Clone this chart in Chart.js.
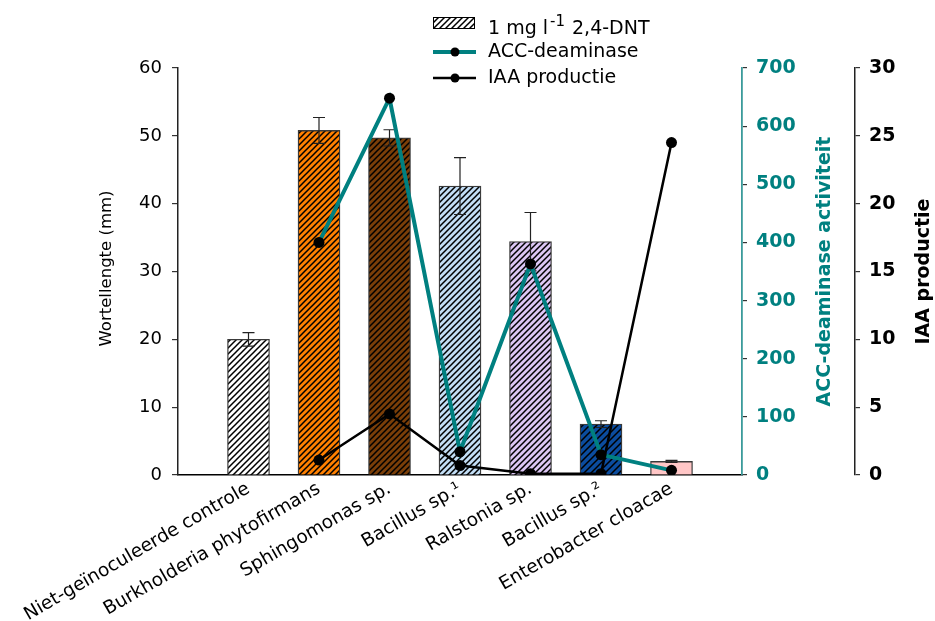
<!DOCTYPE html>
<html>
<head>
<meta charset="utf-8">
<script src="https://cdn.jsdelivr.net/npm/chart.js@4.4.1/dist/chart.umd.min.js"></script>
<style>
  html, body { margin: 0; padding: 0; background: #fff; }
  canvas { display: block; }
</style>
</head>
<body>
<canvas id="chart" width="935" height="621"></canvas>
<script>
// Strains tested (x axis)
const categories = [
  'Niet-geïnoculeerde controle',
  'Burkholderia phytofirmans',
  'Sphingomonas sp.',
  'Bacillus sp.¹',
  'Ralstonia sp.',
  'Bacillus sp.²',
  'Enterobacter cloacae'
];
// Root length (mm) at 1 mg/l 2,4-DNT, with standard error
const rootLength    = [20.0, 50.8, 49.7, 42.6, 34.4, 7.5, 2.0];
const rootLengthErr = [1.0, 1.9, 1.2, 4.2, 4.3, 0.5, 0.15];
// ACC-deaminase activity per strain
const accDeaminase  = [null, 400, 648, 40, 363, 35, 8];
// IAA production per strain
const iaaProduction = [null, 1.1, 4.5, 0.7, 0.1, 0.1, 24.5];

const FONT = 'DejaVu Sans';
const TEAL = '#008080';

const canvas = document.getElementById('chart');
const ctx = canvas.getContext('2d');

// Diagonal hatch fill on a coloured background
function hatch(bg, gap, lw) {
  const c = document.createElement('canvas');
  c.width = c.height = gap;
  const g = c.getContext('2d');
  g.fillStyle = bg;
  g.fillRect(0, 0, gap, gap);
  g.strokeStyle = '#000';
  g.lineWidth = lw;
  g.beginPath();
  g.moveTo(-1, gap + 1); g.lineTo(gap + 1, -1);
  g.moveTo(-gap / 2 - 1, gap / 2 + 1); g.lineTo(gap / 2 + 1, -gap / 2 - 1);
  g.moveTo(gap / 2 - 1, gap * 1.5 + 1); g.lineTo(gap * 1.5 + 1, gap / 2 - 1);
  g.stroke();
  return ctx.createPattern(c, 'repeat');
}

const barFills = [
  hatch('#ffffff', 6, 1.5),
  hatch('#ff8000', 6, 1.5),
  hatch('#7a3e08', 6, 1.5),
  hatch('#c2ddf5', 6, 1.5),
  hatch('#dcc6f4', 6, 1.5),
  hatch('#0b4c9e', 7, 1.5),
  '#ffc6c6'
];

// One empty slot on each side of the strains
const pad = arr => [null, ...arr, null];
const labels = ['', ...categories, ''];

const extras = {
  id: 'extras',
  afterDatasetDraw(chart, args) {
    if (args.index !== 0) return;
    const meta = chart.getDatasetMeta(0);
    const ys = chart.scales.y;
    const c = chart.ctx;
    c.save();
    c.strokeStyle = '#222';
    c.lineWidth = 1.2;
    meta.data.forEach((bar, i) => {
      const k = i - 1;
      if (k < 0 || k >= rootLength.length) return;
      const v = rootLength[k], e = rootLengthErr[k];
      const top = ys.getPixelForValue(v + e);
      const bot = ys.getPixelForValue(v - e);
      const x = bar.x;
      c.beginPath();
      c.moveTo(x, top); c.lineTo(x, bot);
      c.moveTo(x - 6, top); c.lineTo(x + 6, top);
      c.moveTo(x - 6, bot); c.lineTo(x + 6, bot);
      c.stroke();
    });
    c.restore();
  },
  afterDraw(chart) {
    const c = chart.ctx;
    const area = chart.chartArea;
    const midY = (area.top + area.bottom) / 2;
    c.save();

    // Axis titles, all reading bottom to top
    const vTitle = (text, x, y, font, color) => {
      c.save();
      c.translate(x, y);
      c.rotate(-Math.PI / 2);
      c.font = font;
      c.fillStyle = color;
      c.textAlign = 'center';
      c.textBaseline = 'middle';
      c.fillText(text, 0, 0);
      c.restore();
    };
    vTitle('Wortellengte (mm)', 107, midY - 3, `16.5px "${FONT}"`, '#000');
    vTitle('ACC-deaminase activiteit', 825, midY, `bold 19px "${FONT}"`, TEAL);
    vTitle('IAA productie', 924, midY, `bold 19px "${FONT}"`, '#000');

    // Legend
    const lx = 433, tx = 488;
    c.fillStyle = barFills[0];
    c.fillRect(lx, 17, 41, 11);
    c.strokeStyle = '#000';
    c.lineWidth = 1;
    c.strokeRect(lx + 0.5, 17.5, 41, 11);

    c.fillStyle = '#000';
    c.textBaseline = 'alphabetic';
    c.textAlign = 'left';
    c.font = `19px "${FONT}"`;
    let x = tx;
    c.fillText('1 mg l', x, 34);
    x += c.measureText('1 mg l').width + 2;
    c.font = `15px "${FONT}"`;
    c.fillText('-1', x, 26);
    x += c.measureText('-1').width + 1;
    c.font = `19px "${FONT}"`;
    c.fillText(' 2,4-DNT', x, 34);

    const legendLine = (y, color, w, text) => {
      c.strokeStyle = color;
      c.lineWidth = w;
      c.beginPath();
      c.moveTo(lx, y); c.lineTo(lx + 43, y);
      c.stroke();
      c.fillStyle = '#000';
      c.beginPath();
      c.arc(lx + 22, y, 4.5, 0, Math.PI * 2);
      c.fill();
      c.font = `19px "${FONT}"`;
      c.textBaseline = 'middle';
      c.fillText(text, tx, y);
    };
    legendLine(52, TEAL, 4, 'ACC-deaminase');
    legendLine(78, '#000', 2.5, 'IAA productie');
    c.restore();
  }
};

Chart.defaults.font.family = FONT;

new Chart(ctx, {
  data: {
    labels,
    datasets: [
      {
        type: 'bar',
        label: '1 mg l-1 2,4-DNT',
        data: pad(rootLength),
        backgroundColor: pad(barFills),
        borderColor: '#3a3a3a',
        borderWidth: 1.3,
        barThickness: 42,
        yAxisID: 'y',
        order: 3
      },
      {
        type: 'line',
        label: 'ACC-deaminase',
        data: pad(accDeaminase),
        borderColor: TEAL,
        borderWidth: 4,
        pointRadius: 5.5,
        pointBackgroundColor: '#000',
        pointBorderWidth: 0,
        spanGaps: false,
        tension: 0,
        yAxisID: 'yAcc',
        order: 2
      },
      {
        type: 'line',
        label: 'IAA productie',
        data: pad(iaaProduction),
        borderColor: '#000',
        borderWidth: 2.5,
        pointRadius: 5.5,
        pointBackgroundColor: '#000',
        pointBorderWidth: 0,
        tension: 0,
        yAxisID: 'yIaa',
        order: 1
      }
    ]
  },
  options: {
    responsive: false,
    animation: false,
    devicePixelRatio: 1,
    layout: { padding: { top: 68, left: 0, right: 0, bottom: 0 } },
    plugins: { legend: { display: false }, tooltip: { enabled: false } },
    scales: {
      x: {
        type: 'category',
        offset: false,
        grid: { display: false },
        border: { display: true, color: '#000', width: 1.5 },
        ticks: {
          autoSkip: false,
          minRotation: 30,
          maxRotation: 30,
          padding: -5,
          color: '#000',
          font: { size: 18.5 }
        },
        afterFit(s) { s.height = 146; }
      },
      y: {
        position: 'left',
        min: 0,
        max: 60,
        ticks: { stepSize: 10, color: '#000', padding: 10, font: { size: 18 } },
        grid: { drawOnChartArea: false, tickLength: 6, color: '#333', lineWidth: 1.2 },
        border: { color: '#222', width: 1.5 },
        afterFit(s) { s.width = 178; }
      },
      yAcc: {
        position: 'right',
        min: 0,
        max: 700,
        ticks: { stepSize: 100, color: TEAL, padding: 9, font: { size: 19, weight: 'bold' } },
        grid: { drawOnChartArea: false, tickLength: 5, color: '#333', lineWidth: 1.2 },
        border: { color: '#3b9b9b', width: 1.8 },
        afterFit(s) { s.width = 113; }
      },
      yIaa: {
        position: 'right',
        min: 0,
        max: 30,
        ticks: { stepSize: 5, color: '#000', padding: 9, font: { size: 19, weight: 'bold' } },
        grid: { drawOnChartArea: false, tickLength: 5, color: '#333', lineWidth: 1.2 },
        border: { color: '#222', width: 1.5 },
        afterFit(s) { s.width = 80; }
      }
    }
  },
  plugins: [extras]
});
</script>
</body>
</html>
